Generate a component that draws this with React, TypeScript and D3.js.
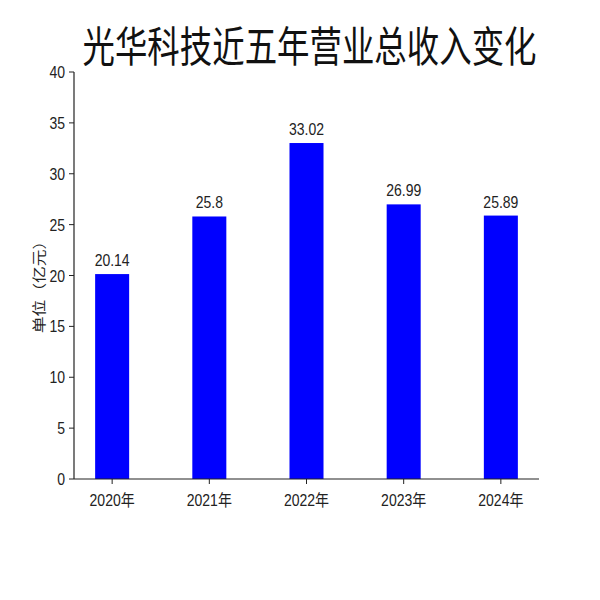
import React from "react";
import * as d3 from "d3";

const categories: string[] = ["2020年", "2021年", "2022年", "2023年", "2024年"];
const revenue: number[] = [20.14, 25.8, 33.02, 26.99, 25.89];
const valueLabels: string[] = ["20.14", "25.8", "33.02", "26.99", "25.89"];
const yTicks: number[] = [0, 5, 10, 15, 20, 25, 30, 35, 40];
const title = "光华科技近五年营业总收入变化";
const yLabel = "单位（亿元）";

const W = 600;
const H = 600;
const left = 74;
const right = 539;
const top = 72;
const bottom = 479;
const barW = 0.35;
const SY = 1.15;

export default function App() {
  const x = d3.scaleLinear().domain([-0.3925, 4.3925]).range([left, right]);
  const y = d3.scaleLinear().domain([0, 40]).range([bottom, top]);
  const font = "'Liberation Sans', Arial, 'Noto Sans CJK SC', sans-serif";
  const txtColor = "#222";
  return (
    <svg
      width={W}
      height={H}
      style={{ position: "absolute", left: 0, top: 0, background: "#fff" }}
      fontFamily={font}
    >
      <rect x={0} y={0} width={W} height={H} fill="#fff" />
      <g transform={`translate(309.5,62) scale(1,${SY})`}>
        <text
          x={0}
          y={0}
          textAnchor="middle"
          fontSize={37}
          fontFamily="'Noto Sans CJK SC', sans-serif"
          textLength={454}
          lengthAdjust="spacingAndGlyphs"
          fill="#111"
        >
          {title}
        </text>
      </g>
      {revenue.map((v, i) => (
        <rect
          key={"b" + i}
          x={x(i - barW / 2)}
          y={y(v)}
          width={x(barW) - x(0)}
          height={y(0) - y(v)}
          fill="#0000FF"
        />
      ))}
      {revenue.map((v, i) => (
        <g key={"v" + i} transform={`translate(${x(i)},${y(v) - 8}) scale(1,${SY})`}>
          <text x={0} y={0} textAnchor="middle" fontSize={14} fill={txtColor}>
            {valueLabels[i]}
          </text>
        </g>
      ))}
      <line x1={left} x2={left} y1={top} y2={bottom} stroke="#222" strokeWidth={1.2} />
      <line x1={left} x2={right} y1={bottom} y2={bottom} stroke="#222" strokeWidth={1.2} />
      {yTicks.map((t) => (
        <g key={"y" + t}>
          <line x1={left - 5} x2={left} y1={y(t)} y2={y(t)} stroke="#222" strokeWidth={1} />
          <g transform={`translate(${left - 9},${y(t) + 6}) scale(1,${SY})`}>
            <text x={0} y={0} textAnchor="end" fontSize={14} fill={txtColor}>
              {t}
            </text>
          </g>
        </g>
      ))}
      {categories.map((c, i) => (
        <g key={"x" + i}>
          <line x1={x(i)} x2={x(i)} y1={bottom} y2={bottom + 5} stroke="#222" strokeWidth={1} />
          <g transform={`translate(${x(i)},${bottom + 27}) scale(1,${SY})`}>
            <text x={0} y={0} textAnchor="middle" fontSize={14} fill={txtColor}>
              {c}
            </text>
          </g>
        </g>
      ))}
      <g transform={`translate(44,283) rotate(-90) scale(1.2,1)`}>
        <text
          x={0}
          y={0}
          textAnchor="middle"
          fontSize={14}
          fontFamily="'Noto Sans CJK SC', sans-serif"
          fill={txtColor}
        >
          {yLabel}
        </text>
      </g>
    </svg>
  );
}
